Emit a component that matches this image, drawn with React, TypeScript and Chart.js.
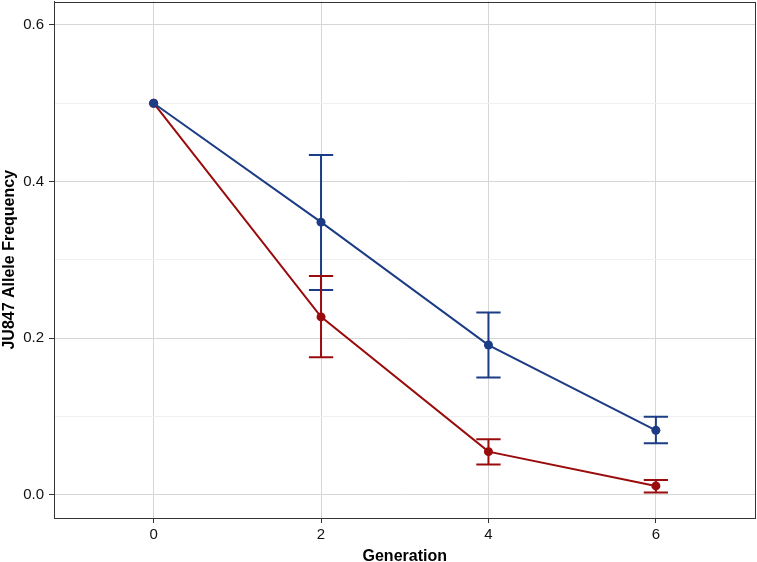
import React, { useEffect, useRef } from "react";
import { Chart, registerables } from "chart.js";

Chart.register(...registerables);

const generations = [0, 2, 4, 6];
const blueMean = [0.5, 0.348, 0.191, 0.082];
const blueLower = [null, 0.2615, 0.1495, 0.0655];
const blueUpper = [null, 0.434, 0.2325, 0.0995];
const redMean = [0.5, 0.227, 0.0548, 0.011];
const redLower = [null, 0.1755, 0.0383, 0.0027];
const redUpper = [null, 0.2793, 0.0705, 0.0186];
const xTicks = [0, 2, 4, 6];
const yTicks = [0, 0.1, 0.2, 0.3, 0.4, 0.5, 0.6];

const BLUE = "#1c3c86";
const RED = "#9a0c0c";
const FONT = "'Liberation Sans', Arial, Helvetica, sans-serif";

const errorBars = {
  id: "errorBars",
  afterDatasetsDraw(chart: any) {
    const { ctx, scales } = chart;
    const xs = scales.x;
    const ys = scales.y;
    const sets = [
      { lo: blueLower, hi: blueUpper, color: BLUE },
      { lo: redLower, hi: redUpper, color: RED },
    ];
    const capHalf = 0.145;
    ctx.save();
    ctx.lineWidth = 2;
    sets.forEach((s) => {
      ctx.strokeStyle = s.color;
      generations.forEach((g, i) => {
        const lo = s.lo[i];
        const hi = s.hi[i];
        if (lo == null || hi == null) return;
        const x = xs.getPixelForValue(g);
        const xl = xs.getPixelForValue(g - capHalf);
        const xr = xs.getPixelForValue(g + capHalf);
        const yl = ys.getPixelForValue(lo);
        const yh = ys.getPixelForValue(hi);
        ctx.beginPath();
        ctx.moveTo(x, yl);
        ctx.lineTo(x, yh);
        ctx.moveTo(xl, yl);
        ctx.lineTo(xr, yl);
        ctx.moveTo(xl, yh);
        ctx.lineTo(xr, yh);
        ctx.stroke();
      });
    });
    ctx.restore();
  },
};

const panelBorder = {
  id: "panelBorder",
  afterDraw(chart: any) {
    const { ctx, chartArea } = chart;
    ctx.save();
    ctx.strokeStyle = "#333333";
    ctx.lineWidth = 1;
    ctx.strokeRect(
      Math.round(chartArea.left) + 0.5,
      Math.round(chartArea.top) + 0.5,
      Math.round(chartArea.right - chartArea.left) - 1,
      Math.round(chartArea.bottom - chartArea.top) - 1
    );
    ctx.restore();
  },
};

export default function App() {
  const ref = useRef<HTMLCanvasElement | null>(null);
  useEffect(() => {
    if (!ref.current) return;
    const chart = new Chart(ref.current, {
      type: "line",
      data: {
        datasets: [
          {
            label: "blue",
            data: generations.map((g, i) => ({ x: g, y: blueMean[i] })),
            borderColor: BLUE,
            backgroundColor: BLUE,
            borderWidth: 2,
            pointRadius: 4.5,
            pointBorderWidth: 0,
            tension: 0,
          },
          {
            label: "red",
            data: generations.map((g, i) => ({ x: g, y: redMean[i] })),
            borderColor: RED,
            backgroundColor: RED,
            borderWidth: 2,
            pointRadius: 4.5,
            pointBorderWidth: 0,
            tension: 0,
          },
        ],
      },
      options: {
        animation: false,
        responsive: false,
        maintainAspectRatio: false,
        layout: { padding: { left: 0, right: 1, top: 2, bottom: 0 } },
        plugins: { legend: { display: false }, tooltip: { enabled: false } },
        scales: {
          x: {
            type: "linear",
            min: -1.19,
            max: 7.19,
            afterBuildTicks: (s: any) => {
              s.ticks = xTicks.map((v) => ({ value: v }));
            },
            afterFit: (s: any) => {
              s.height = 44;
              s.paddingLeft = 0;
              s.paddingRight = 0;
            },
            grid: {
              color: "#d6d6d6",
              lineWidth: 1,
              tickColor: "#333333",
              tickLength: 5,
              drawOnChartArea: true,
            },
            border: { display: true, color: "#333333", width: 1 },
            ticks: {
              color: "#111111",
              font: { family: FONT, size: 15 },
              padding: 3,
              maxRotation: 0,
              callback: (v: any) => String(v),
            },
            title: {
              display: true,
              text: "Generation",
              color: "#000000",
              font: { family: FONT, size: 16, weight: "bold", lineHeight: 1 },
              padding: { top: 0, bottom: -3 },
            },
          },
          y: {
            type: "linear",
            min: -0.03,
            max: 0.63,
            afterBuildTicks: (s: any) => {
              s.ticks = yTicks.map((v) => ({ value: v }));
            },
            afterFit: (s: any) => {
              s.width = 54;
              s.paddingTop = 0;
              s.paddingBottom = 0;
            },
            grid: {
              color: (c: any) => {
                const v = Math.round((c.tick?.value ?? 0) * 10);
                return v % 2 === 0 ? "#d6d6d6" : "#efefef";
              },
              tickColor: (c: any) => {
                const v = Math.round((c.tick?.value ?? 0) * 10);
                return v % 2 === 0 ? "#333333" : "rgba(0,0,0,0)";
              },
              lineWidth: 1,
              tickLength: 5,
            },
            border: { display: true, color: "#333333", width: 1 },
            ticks: {
              color: "#111111",
              font: { family: FONT, size: 15 },
              padding: 5,
              callback: (v: any) => {
                const k = Math.round(v * 10);
                return k % 2 === 0 ? (k / 10).toFixed(1) : "";
              },
            },
            title: {
              display: true,
              text: "JU847 Allele Frequency",
              color: "#000000",
              font: { family: FONT, size: 16, weight: "bold", lineHeight: 1 },
              padding: { top: 2, bottom: 0 },
            },
          },
        },
      },
      plugins: [errorBars, panelBorder],
    } as any);
    return () => chart.destroy();
  }, []);
  return (
    <div style={{ position: "fixed", left: 0, top: -3, width: 760, height: 565, background: "#ffffff", overflow: "hidden" }}>
      <canvas ref={ref} width={760} height={565} style={{ display: "block", width: 760, height: 565 }} />
    </div>
  );
}
